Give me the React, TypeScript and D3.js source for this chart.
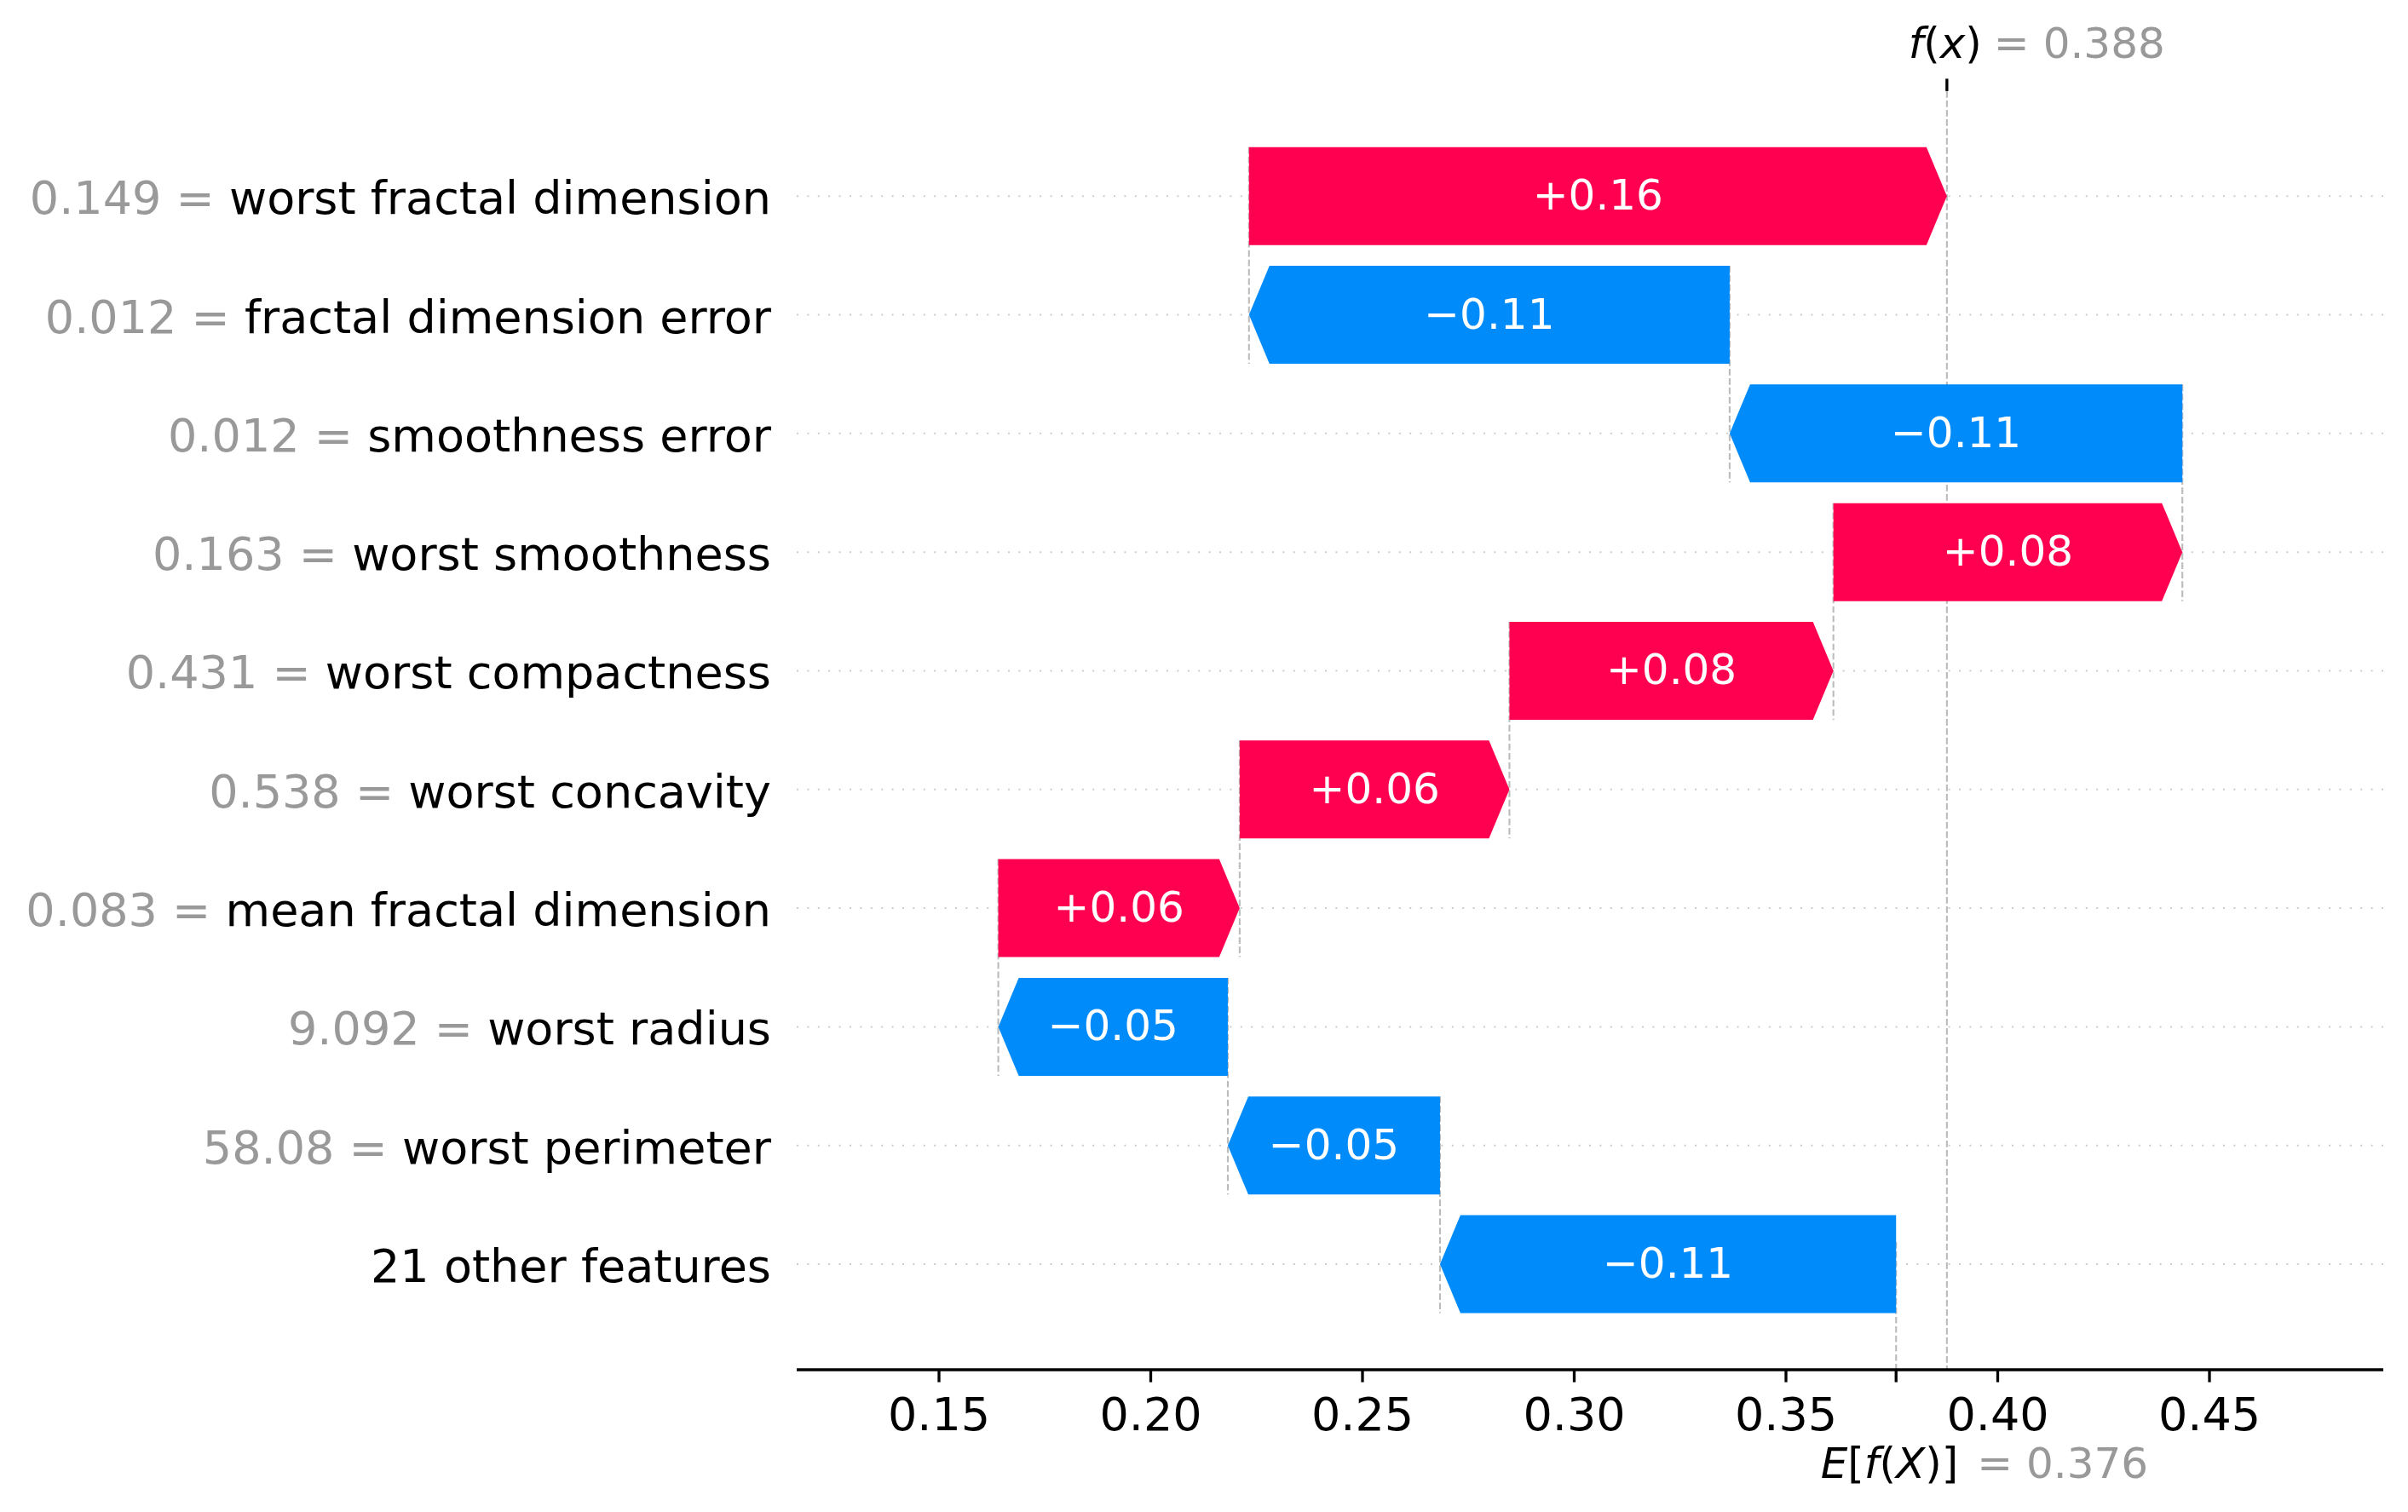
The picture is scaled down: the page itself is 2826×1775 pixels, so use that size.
import React from "react";
import * as d3 from "d3";

const featureNames = [
  "worst fractal dimension",
  "fractal dimension error",
  "smoothness error",
  "worst smoothness",
  "worst compactness",
  "worst concavity",
  "mean fractal dimension",
  "worst radius",
  "worst perimeter",
  "21 other features",
];
const featureValues = ["0.149", "0.012", "0.012", "0.163", "0.431", "0.538", "0.083", "9.092", "58.08", ""];
const shapValues = [0.1648, -0.1135, -0.1069, 0.0824, 0.0765, 0.0637, 0.057, -0.0542, -0.0501, -0.1077];
const baseValue = 0.376;
const xTicks = [0.15, 0.2, 0.25, 0.3, 0.35, 0.4, 0.45];

const W = 2826;
const H = 1775;
const RED = "#ff0051";
const BLUE = "#008bfb";
const FONT = "'DejaVu Sans', sans-serif";

export default function App() {
  const fx = baseValue + d3.sum(shapValues);
  const x = d3.scaleLinear().domain([0.15, 0.45]).range([1102, 2593]);
  const y = d3.scaleLinear().domain([0, featureNames.length - 1]).range([230.2, 1484]);
  const axLeft = 935;
  const axRight = 2797;
  const axTop = 107;
  const axBottom = 1608;
  const barH = 115;
  const headLen = 24;

  // compute bars top->bottom
  let loc = fx;
  const bars = shapValues.map((s, i) => {
    const after = loc;
    const before = loc - s;
    loc = before;
    return { i, s, after, before, lo: Math.min(before, after), hi: Math.max(before, after) };
  });

  const fmt = (v: number) => (v >= 0 ? "+" : "\u2212") + Math.abs(v).toFixed(2);

  const fxX = x(fx);
  const baseX = x(baseValue);

  return (
    <div style={{ position: "absolute", left: 0, top: 0 }}>
      <svg width={W} height={H} style={{ display: "block", background: "#fff" }} fontFamily={FONT}>
        {/* horizontal dotted grid */}
        {featureNames.map((_, i) => (
          <line key={"g" + i} x1={axLeft} x2={axRight} y1={y(i)} y2={y(i)} stroke="#cccccc" strokeWidth={2} strokeDasharray="2 10.4" />
        ))}
        {/* connecting dashed lines */}
        {bars.slice(0, bars.length - 1).map((b) => (
          <line
            key={"d" + b.i}
            x1={x(b.before)}
            x2={x(b.before)}
            y1={y(b.i) - barH / 2}
            y2={y(b.i + 1) + barH / 2}
            stroke="#bbbbbb"
            strokeWidth={2.08}
            strokeDasharray="7.7 3.3"
          />
        ))}
        {/* f(x) line */}
        <line x1={fxX} x2={fxX} y1={axTop} y2={axBottom} stroke="#bbbbbb" strokeWidth={2.08} strokeDasharray="7.7 3.3" />
        {/* E[f(X)] line */}
        <line x1={baseX} x2={baseX} y1={axBottom - (axBottom - axTop) / featureNames.length} y2={axBottom} stroke="#bbbbbb" strokeWidth={2.08} strokeDasharray="7.7 3.3" />
        {/* bars */}
        {bars.map((b) => {
          const x0 = x(b.lo);
          const x1 = x(b.hi);
          const yc = y(b.i);
          const yt = yc - barH / 2;
          const yb = yc + barH / 2;
          const h = Math.min(headLen, x1 - x0);
          const pts =
            b.s >= 0
              ? [[x0, yt], [x1 - h, yt], [x1, yc], [x1 - h, yb], [x0, yb]]
              : [[x1, yt], [x0 + h, yt], [x0, yc], [x0 + h, yb], [x1, yb]];
          return (
            <g key={"b" + b.i}>
              <polygon points={pts.map((p) => p.join(",")).join(" ")} fill={b.s >= 0 ? RED : BLUE} />
              <text x={(x0 + x1) / 2} y={yc + 16} textAnchor="middle" fontSize={50} fill="#fff">
                {fmt(b.s)}
              </text>
            </g>
          );
        })}
        {/* y labels */}
        {featureNames.map((n, i) => (
          <text key={"y" + i} x={905} y={y(i) + 21} textAnchor="end" fontSize={54}>
            {featureValues[i] !== "" && <tspan fill="#999999">{featureValues[i] + " = "}</tspan>}
            <tspan fill="#000">{n}</tspan>
          </text>
        ))}
        {/* bottom axis */}
        <line x1={axLeft} x2={axRight} y1={axBottom} y2={axBottom} stroke="#000" strokeWidth={3.3} />
        {xTicks.map((t) => (
          <g key={"t" + t}>
            <line x1={x(t)} x2={x(t)} y1={axBottom} y2={axBottom + 14.6} stroke="#000" strokeWidth={3.3} />
            <text x={x(t)} y={1679} textAnchor="middle" fontSize={54} fill="#000">
              {t.toFixed(2)}
            </text>
          </g>
        ))}
        <line x1={baseX} x2={baseX} y1={axBottom} y2={axBottom + 14.6} stroke="#000" strokeWidth={3.3} />
        <text x={baseX + 73} y={1735} textAnchor="end" fontSize={50} fill="#000">
          <tspan fontStyle="italic">E</tspan>
          <tspan>[</tspan>
          <tspan fontStyle="italic">f</tspan>
          <tspan>(</tspan>
          <tspan fontStyle="italic">X</tspan>
          <tspan>)]</tspan>
        </text>
        <text x={baseX + 95} y={1735} fontSize={50} fill="#999999">
          {"= " + baseValue.toFixed(3)}
        </text>
        {/* top tick and f(x) label */}
        <line x1={fxX} x2={fxX} y1={axTop - 14.6} y2={axTop} stroke="#000" strokeWidth={3.3} />
        <text x={fxX + 41} y={68} textAnchor="end" fontSize={50} fill="#000">
          <tspan fontStyle="italic">f</tspan>
          <tspan>(</tspan>
          <tspan fontStyle="italic">x</tspan>
          <tspan>)</tspan>
        </text>
        <text x={fxX + 55} y={68} fontSize={50} fill="#999999">
          {"= " + fx.toFixed(3)}
        </text>
      </svg>
    </div>
  );
}
